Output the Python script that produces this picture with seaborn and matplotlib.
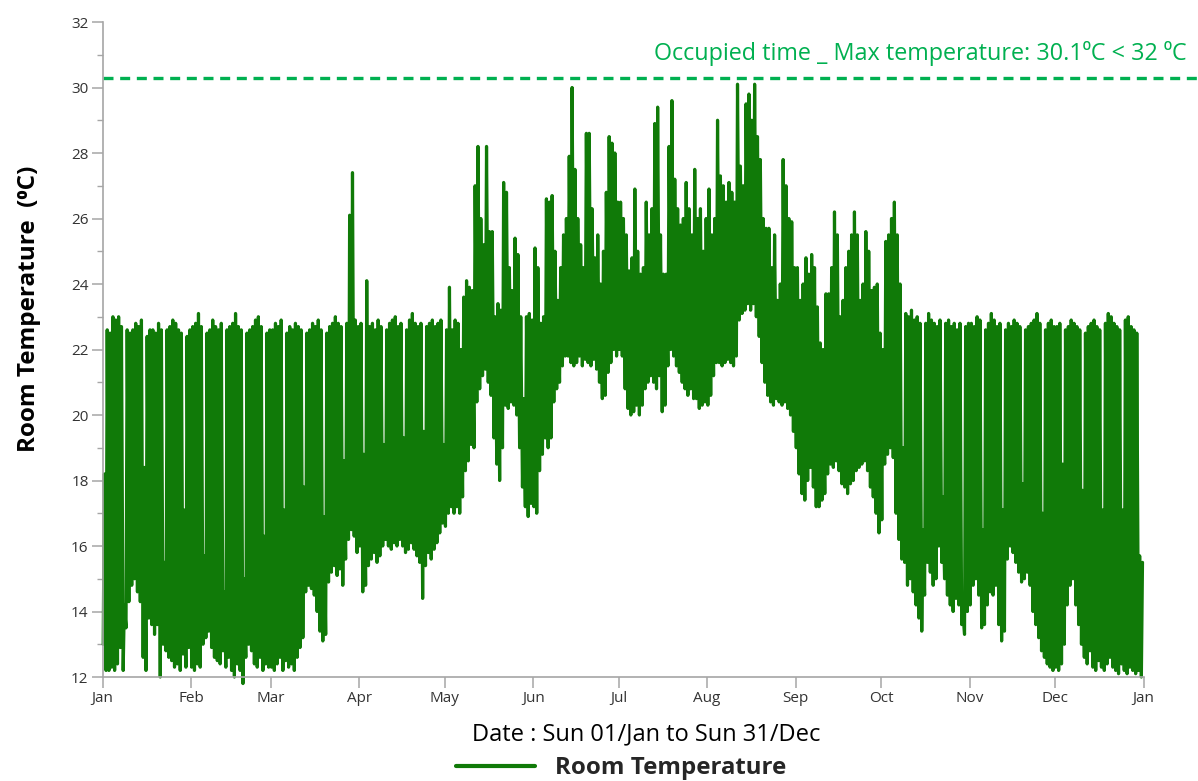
import numpy as np
import pandas as pd
import matplotlib
matplotlib.use("Agg")
import matplotlib.pyplot as plt
import matplotlib.dates as mdates
import seaborn as sns

# ---- data: daily low / high room temperature (deg C) ----
hi_jan = [18.2, 22.6, 22.5, 23.0, 22.9, 23.0, 22.7, 14.2, 22.6, 22.5, 22.6, 22.8, 22.7, 22.9, 18.4, 22.4,
          22.6, 22.6, 22.5, 22.8, 22.6, 15.5, 22.6, 22.7, 22.9, 22.8, 22.6, 22.5, 17.1, 22.4, 22.6]
lo_jan = [13.0, 12.2, 12.2, 12.3, 12.2, 12.4, 12.9, 12.2, 13.5, 14.3, 14.8, 15.0, 14.6, 14.3, 12.6, 12.2,
          13.8, 13.6, 13.3, 13.6, 12.0, 13.0, 12.8, 12.6, 12.5, 12.3, 12.4, 12.2, 12.7, 12.3, 12.9]
hi_feb = [22.7, 22.8, 23.1, 22.7, 15.7, 22.5, 22.6, 22.9, 22.7, 22.6, 22.8, 14.6, 22.6, 22.7,
          22.8, 23.1, 22.7, 22.6, 15.0, 22.5, 22.6, 22.7, 22.9, 23.0, 22.7, 16.3, 22.5, 22.6]
lo_feb = [12.3, 12.2, 12.4, 12.3, 13.0, 13.2, 13.4, 12.9, 12.6, 12.5, 12.4, 12.8, 12.3, 12.6,
          12.2, 12.0, 12.4, 12.2, 11.8, 12.6, 13.0, 12.8, 12.4, 12.3, 12.6, 12.2, 12.4, 12.3]
hi_mar = [22.6, 22.8, 22.7, 22.9, 17.1, 22.5, 22.7, 22.6, 22.8, 22.7, 22.6, 17.8, 22.5, 22.6, 22.8, 22.7,
          22.9, 22.6, 16.9, 22.5, 22.7, 22.8, 23.0, 22.8, 22.7, 18.6, 22.8, 26.1, 27.4, 22.9, 22.7]
lo_mar = [12.3, 12.2, 12.4, 12.6, 12.2, 12.5, 12.3, 12.4, 12.2, 12.6, 12.9, 13.2, 14.6, 14.8, 14.7, 14.5,
          14.0, 13.4, 13.1, 13.3, 14.9, 15.2, 15.4, 15.1, 15.3, 14.8, 15.6, 16.2, 16.5, 16.3, 15.8]
hi_apr = [22.8, 18.8, 24.1, 22.7, 22.8, 22.6, 22.9, 22.7, 19.1, 22.6, 22.8, 22.9, 23.0, 22.7, 22.8,
          19.3, 22.6, 22.9, 23.1, 22.8, 22.7, 22.8, 19.5, 22.7, 22.8, 22.9, 22.7, 22.8, 22.9, 19.1]
lo_apr = [16.0, 14.6, 14.8, 15.4, 15.6, 15.8, 15.5, 15.7, 16.0, 16.2, 16.0, 15.9, 16.1, 16.0, 16.2,
          16.0, 15.8, 15.9, 16.1, 15.9, 15.7, 15.5, 14.4, 15.4, 15.8, 15.6, 15.9, 16.1, 16.4, 16.7]
hi_may = [22.6, 23.9, 22.6, 22.9, 22.8, 22.0, 23.6, 24.1, 23.9, 23.8, 27.0, 28.2, 26.0, 25.2, 28.2, 25.6,
          25.6, 23.0, 23.4, 23.2, 27.1, 26.8, 24.5, 23.8, 25.4, 24.9, 23.0, 20.5, 23.0, 23.1, 22.9]
lo_may = [16.6, 17.0, 17.2, 17.0, 17.2, 17.0, 17.5, 18.3, 18.6, 19.1, 19.0, 20.4, 20.8, 21.2, 21.4, 21.0,
          20.6, 19.3, 18.5, 18.0, 19.0, 20.3, 20.2, 20.4, 20.3, 20.0, 19.0, 17.8, 17.2, 16.9, 17.3]
hi_jun = [25.1, 24.5, 22.8, 23.0, 26.6, 26.5, 26.7, 25.0, 23.5, 24.5, 25.5, 26.0, 27.9, 30.0, 27.5,
          26.0, 25.2, 24.5, 28.6, 28.6, 26.3, 24.8, 25.5, 24.0, 25.0, 26.8, 28.5, 28.3, 28.0, 26.5]
lo_jun = [17.2, 17.0, 18.3, 18.8, 19.3, 19.0, 19.3, 20.4, 20.8, 21.0, 21.5, 21.8, 21.8, 21.6, 21.5,
          21.6, 21.8, 21.5, 21.7, 21.6, 21.5, 21.7, 21.4, 21.0, 20.5, 20.6, 21.3, 21.6, 22.0, 21.8]
hi_jul = [26.5, 26.0, 25.5, 24.4, 24.8, 26.9, 25.0, 24.3, 24.5, 26.5, 25.5, 26.3, 28.9, 29.4, 25.5, 24.3,
          24.3, 28.2, 29.6, 27.2, 26.3, 25.8, 26.0, 27.1, 26.3, 25.5, 27.5, 26.0, 26.3, 25.0, 26.0]
lo_jul = [22.0, 21.8, 20.8, 20.2, 20.0, 20.1, 20.3, 20.0, 20.3, 20.8, 21.0, 21.2, 21.0, 20.8, 21.2, 20.1,
          20.3, 21.5, 22.0, 21.8, 21.5, 21.3, 21.0, 20.8, 20.6, 20.8, 20.5, 20.5, 20.2, 20.3, 20.4]
hi_aug = [26.9, 25.5, 26.0, 29.0, 27.3, 27.0, 26.5, 27.1, 26.8, 26.5, 30.1, 27.6, 27.0, 29.5, 29.8, 29.0,
          30.1, 28.5, 27.8, 26.0, 25.7, 25.7, 24.5, 25.5, 23.5, 24.0, 27.8, 27.0, 26.0, 25.9, 24.5]
lo_aug = [20.3, 20.6, 21.2, 21.6, 21.6, 21.5, 21.6, 21.7, 21.6, 21.5, 21.8, 22.9, 23.1, 23.2, 23.4, 23.2,
          23.4, 23.0, 22.4, 21.6, 21.0, 20.6, 20.4, 20.3, 20.5, 20.4, 20.3, 20.4, 20.2, 20.0, 19.5]
hi_sep = [24.5, 23.5, 24.0, 24.8, 24.3, 24.9, 24.5, 23.3, 22.2, 22.0, 23.7, 23.7, 24.5, 26.2, 25.5,
          23.0, 23.5, 24.5, 25.0, 25.5, 26.2, 25.5, 23.5, 24.0, 25.6, 25.0, 23.8, 23.9, 24.0, 22.5]
lo_sep = [19.0, 18.2, 17.6, 17.4, 18.0, 18.4, 17.8, 17.2, 17.2, 17.4, 17.6, 18.2, 18.5, 18.4, 18.6,
          18.3, 17.9, 17.8, 17.6, 17.9, 18.0, 18.3, 18.4, 18.5, 18.6, 18.3, 17.8, 17.5, 17.0, 16.4]
hi_oct = [22.0, 25.3, 25.5, 26.0, 26.5, 25.5, 24.0, 19.0, 23.1, 23.0, 23.2, 22.9, 23.0, 22.8, 16.5, 22.8,
          23.1, 22.9, 22.8, 22.7, 22.9, 17.5, 22.8, 22.9, 22.7, 22.8, 22.6, 22.8, 14.0, 22.7, 22.8]
lo_oct = [16.8, 18.5, 18.8, 19.0, 18.7, 17.0, 16.2, 15.6, 15.5, 14.8, 15.0, 14.6, 14.2, 13.8, 13.4, 14.5,
          15.5, 15.2, 14.8, 15.0, 16.0, 15.5, 15.0, 14.5, 14.2, 14.0, 14.4, 14.2, 13.6, 13.3, 14.0]
hi_nov = [22.8, 22.7, 23.0, 22.9, 16.5, 22.6, 22.8, 23.1, 22.9, 22.7, 22.8, 17.1, 22.6, 22.8, 22.7,
          22.9, 22.8, 22.7, 17.9, 22.6, 22.7, 22.8, 22.9, 23.1, 22.8, 17.0, 22.6, 22.8, 22.9, 22.7]
lo_nov = [14.2, 14.8, 15.0, 14.5, 13.5, 13.6, 14.2, 14.6, 14.5, 14.8, 13.6, 13.1, 13.4, 15.6, 16.0,
          15.8, 15.5, 15.2, 14.9, 15.0, 15.2, 14.8, 14.0, 13.6, 13.2, 12.8, 12.6, 12.4, 12.3, 12.2]
hi_dec = [22.7, 22.8, 18.5, 22.6, 22.7, 22.9, 22.8, 22.7, 22.6, 17.7, 22.5, 22.7, 22.8, 22.9, 22.7, 22.6,
          17.1, 22.8, 23.1, 23.0, 22.8, 22.7, 22.6, 17.1, 22.9, 23.0, 22.7, 22.6, 22.5, 15.7, 15.5]
lo_dec = [12.3, 12.2, 12.4, 13.0, 14.2, 14.8, 15.0, 14.2, 13.6, 13.0, 12.6, 12.4, 12.8, 12.3, 12.2, 12.5,
          12.3, 12.2, 12.4, 12.6, 12.3, 12.2, 12.1, 12.4, 12.2, 12.1, 12.3, 12.2, 12.1, 12.2, 12.0]

max_label = "Occupied time _ Max temperature: 30.1\u2070C < 32 \u2070C"
max_line_value = 30.3
series_name = "Room Temperature"

highs = np.array(hi_jan + hi_feb + hi_mar + hi_apr + hi_may + hi_jun +
                 hi_jul + hi_aug + hi_sep + hi_oct + hi_nov + hi_dec)
lows = np.array(lo_jan + lo_feb + lo_mar + lo_apr + lo_may + lo_jun +
                lo_jul + lo_aug + lo_sep + lo_oct + lo_nov + lo_dec)
ndays = len(highs)

# each day: morning low, afternoon high
day_idx = np.repeat(np.arange(ndays), 2)
frac = np.tile([0.25, 0.65], ndays)
temps = np.column_stack([lows, highs]).ravel()
start = pd.Timestamp("2017-01-01")
times = start + pd.to_timedelta(day_idx + frac, unit="D")
df = pd.DataFrame({"time": times, "temp": temps, "series": series_name})

# ---- style ----
sns.set_style("ticks")
plt.rcParams["font.family"] = ["Open Sans", "DejaVu Sans"]

W, H = 1198, 781
AX_L, AX_R, AX_T, AX_B = 102.5, 1143.5, 22, 677
fig = plt.figure(figsize=(W / 100, H / 100), dpi=100)
ax = fig.add_axes([AX_L / W, 1 - AX_B / H, (AX_R - AX_L) / W, (AX_B - AX_T) / H])

line_color = "#107A08"
sns.lineplot(data=df, x="time", y="temp", ax=ax, color=line_color, lw=2.3,
             sort=False, estimator=None, legend=False, clip_on=False)

ax.set_xlim(start, pd.Timestamp("2018-01-01"))
ax.set_ylim(12, 32)
ax.set_yticks(np.arange(12, 33, 2))
ax.set_yticks(np.arange(13, 32, 2), minor=True)
ax.xaxis.set_major_locator(mdates.MonthLocator())
ax.xaxis.set_major_formatter(mdates.DateFormatter("%b"))

gray = "#A6A6A6"
for s in ["top", "right"]:
    ax.spines[s].set_visible(False)
for s in ["left", "bottom"]:
    ax.spines[s].set_color(gray)
    ax.spines[s].set_linewidth(1.2)
ax.tick_params(axis="both", which="major", length=8, width=1.1, color=gray,
               labelsize=11, labelcolor="#333333", pad=2)
ax.tick_params(axis="y", which="minor", length=4, width=1.0, color=gray)

ax.set_xlabel("")
ax.set_ylabel("Room Temperature  (\u2070C)", fontsize=17.5, fontweight="bold",
              color="black")
ax.yaxis.set_label_coords(-(AX_L - 41) / (AX_R - AX_L), (AX_B - 309) / (AX_B - AX_T))

# max temperature reference line (extends to the figure edge)
ax.axhline(max_line_value, xmin=0, xmax=(W - AX_L) / (AX_R - AX_L), color="#00B050",
           lw=2.4, ls=(0, (3, 2)), clip_on=False)
fig.text(1187 / W, 1 - 53 / H, max_label, ha="right", va="center",
         fontsize=16.8, color="#00B050")

fig.text(646 / W, 1 - 734 / H, "Date : Sun 01/Jan to Sun 31/Dec", ha="center",
         va="center", fontsize=17, color="black")

handle = plt.Line2D([], [], color=line_color, lw=3)
fig.legend([handle], [series_name], loc="center", bbox_to_anchor=(621 / W, 1 - 768 / H),
           frameon=False, handlelength=3.3, handletextpad=0.85,
           prop={"weight": "bold", "size": 17.3, "family": ["Open Sans", "DejaVu Sans"]})

fig.savefig("out.png", dpi=100)
